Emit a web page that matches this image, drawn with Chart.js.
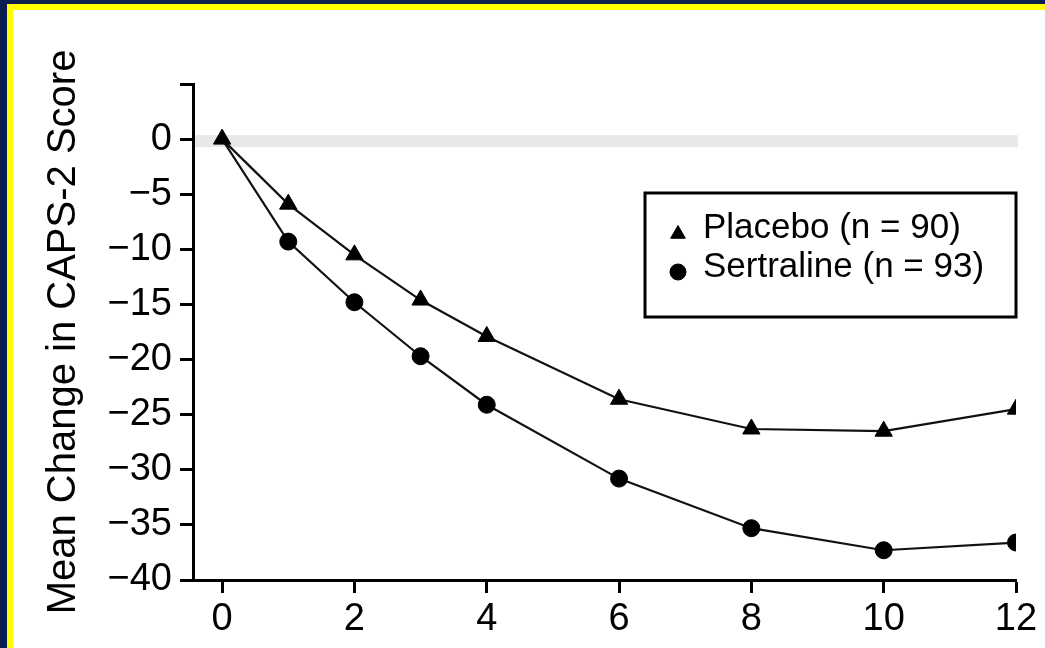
<!DOCTYPE html>
<html>
<head>
<meta charset="utf-8">
<script src="https://cdn.jsdelivr.net/npm/chart.js@4.4.1/dist/chart.umd.min.js"></script>
<style>
  html, body { margin: 0; padding: 0; width: 1045px; height: 648px; overflow: hidden; background: #0a1e50; }
  #yellow { position: absolute; left: 7px; top: 4px; width: 1038px; height: 644px; background: #ffff00; }
  #white { position: absolute; left: 13px; top: 10px; width: 1032px; height: 638px; background: #ffffff; }
  canvas { display: block; }
</style>
</head>
<body>
<div id="yellow"></div>
<div id="white"><canvas id="c" width="1032" height="638"></canvas></div>
<script>
const weeks = [0, 1, 2, 3, 4, 6, 8, 10, 12];
const placebo = [0, -5.9, -10.5, -14.6, -17.9, -23.6, -26.3, -26.5, -24.5];
const sertraline = [0, -9.3, -14.8, -19.7, -24.1, -30.8, -35.3, -37.3, -36.6];
const seriesLabels = ['Placebo (n = 90)', 'Sertraline (n = 93)'];
const xTicks = [0, 2, 4, 6, 8, 10, 12];
const yTicks = [5, 0, -5, -10, -15, -20, -25, -30, -35, -40];
const yTickLabels = ['', '0', '\u22125', '\u221210', '\u221215', '\u221220', '\u221225', '\u221230', '\u221235', '\u221240'];
const yTitle = 'Mean Change in CAPS-2 Score';

const FONT = "'Liberation Sans', Arial, Helvetica, sans-serif";
Chart.defaults.font.family = FONT;
Chart.defaults.color = '#000';

const zeroBand = {
  id: 'zeroBand',
  beforeDatasetsDraw(chart) {
    const {ctx, chartArea, scales} = chart;
    const y = scales.y.getPixelForValue(0);
    const xEnd = scales.x.getPixelForValue(12) + 2;
    ctx.save();
    ctx.fillStyle = '#e8e8e8';
    ctx.fillRect(chartArea.left + 2, y - 4, xEnd - chartArea.left - 2, 12);
    ctx.restore();
  }
};

function drawMarker(ctx, style, r, x, y) {
  ctx.save();
  ctx.fillStyle = '#000';
  ctx.strokeStyle = '#000';
  ctx.lineWidth = 1;
  if (Chart.helpers && Chart.helpers.drawPoint) {
    Chart.helpers.drawPoint(ctx, {pointStyle: style, radius: r, rotation: 0, borderWidth: 1}, x, y);
  } else {
    ctx.beginPath();
    if (style === 'circle') {
      ctx.arc(x, y, r, 0, Math.PI * 2);
    } else {
      ctx.moveTo(x, y - r);
      ctx.lineTo(x + r * Math.sin(2 * Math.PI / 3), y + r / 2);
      ctx.lineTo(x - r * Math.sin(2 * Math.PI / 3), y + r / 2);
      ctx.closePath();
    }
    ctx.fill();
    ctx.stroke();
  }
  ctx.restore();
}

const boxLegend = {
  id: 'boxLegend',
  afterDraw(chart) {
    const {ctx, chartArea} = chart;
    const w = 371, h = 124;
    const left = chartArea.right - w;
    const top = chartArea.top + 109;
    ctx.save();
    ctx.lineWidth = 3;
    ctx.strokeStyle = '#000';
    ctx.strokeRect(left, top, w, h);
    ctx.font = '35px ' + FONT;
    ctx.fillStyle = '#000';
    ctx.textAlign = 'left';
    ctx.textBaseline = 'alphabetic';
    const ds = chart.data.datasets;
    drawMarker(ctx, ds[0].pointStyle, 8.5, left + 33, top + 41);
    ctx.fillText(ds[0].label, left + 58, top + 45);
    drawMarker(ctx, ds[1].pointStyle, 8, left + 33, top + 79);
    ctx.fillText(ds[1].label, left + 58, top + 84);
    ctx.restore();
  }
};

new Chart(document.getElementById('c'), {
  type: 'line',
  data: {
    datasets: [
      {
        label: seriesLabels[0],
        data: weeks.map((w, i) => ({x: w, y: placebo[i]})),
        borderColor: '#111',
        borderWidth: 2.2,
        pointStyle: 'triangle',
        pointRadius: 10,
        pointBackgroundColor: '#000',
        pointBorderColor: '#000',
        pointBorderWidth: 1,
        tension: 0
      },
      {
        label: seriesLabels[1],
        data: weeks.map((w, i) => ({x: w, y: sertraline[i]})),
        borderColor: '#111',
        borderWidth: 2.2,
        pointStyle: 'circle',
        pointRadius: (c) => c.dataIndex === 0 ? 0 : 8.5,
        pointBackgroundColor: '#000',
        pointBorderColor: '#000',
        pointBorderWidth: 1,
        tension: 0
      }
    ]
  },
  options: {
    responsive: false,
    animation: false,
    events: [],
    layout: { padding: { left: 0, top: 74, right: 29, bottom: 0 } },
    plugins: { legend: { display: false }, tooltip: { enabled: false } },
    scales: {
      x: {
        type: 'linear',
        min: -0.44,
        max: 12,
        afterBuildTicks(scale) { scale.ticks = xTicks.map(v => ({value: v})); },
        afterFit(scale) { scale.height = 68; },
        ticks: {
          font: { size: 38 },
          color: '#000',
          padding: 4,
          maxRotation: 0,
          callback: (v) => String(v)
        },
        grid: { drawOnChartArea: false, drawTicks: true, tickLength: 13, tickWidth: 3, tickColor: '#000' },
        border: { display: true, width: 3, color: '#000' }
      },
      y: {
        type: 'linear',
        min: -40,
        max: 5,
        afterBuildTicks(scale) { scale.ticks = yTicks.map(v => ({value: v})); },
        afterFit(scale) { scale.width = 180; },
        ticks: {
          font: { size: 38 },
          color: '#000',
          padding: 8,
          callback: (v) => yTickLabels[yTicks.indexOf(v)]
        },
        grid: { drawOnChartArea: false, drawTicks: true, tickLength: 13, tickWidth: 3, tickColor: '#000' },
        border: { display: true, width: 3, color: '#000' },
        title: {
          display: true,
          text: yTitle,
          font: { size: 40 },
          color: '#000',
          padding: { top: 27, bottom: 0 }
        }
      }
    }
  },
  plugins: [zeroBand, boxLegend]
});
</script>
</body>
</html>
